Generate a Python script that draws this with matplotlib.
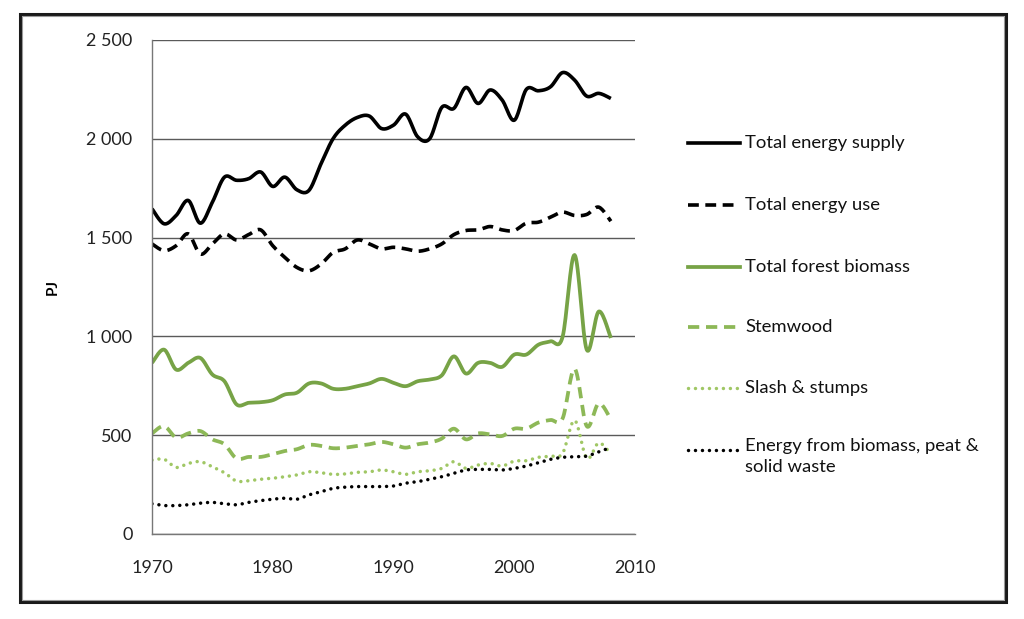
import numpy as np
import matplotlib
matplotlib.use("Agg")
import matplotlib.pyplot as plt
from matplotlib.lines import Line2D
from matplotlib.patches import Rectangle
from matplotlib.ticker import FuncFormatter

years = list(range(1970, 2009))

total_energy_supply = [1646, 1570, 1612, 1688, 1573, 1679, 1806, 1790, 1798, 1832,
                       1759, 1806, 1742, 1739, 1874, 2001, 2069, 2108, 2115, 2052,
                       2069, 2125, 2010, 2001, 2159, 2154, 2260, 2179, 2247, 2196,
                       2094, 2250, 2243, 2263, 2335, 2297, 2216, 2230, 2204]
total_energy_use = [1468, 1434, 1459, 1519, 1417, 1468, 1519, 1488, 1515, 1539,
                    1459, 1400, 1349, 1332, 1366, 1425, 1443, 1488, 1468, 1443,
                    1451, 1443, 1431, 1443, 1468, 1515, 1536, 1539, 1556, 1539,
                    1536, 1573, 1578, 1603, 1629, 1612, 1617, 1654, 1583]
total_forest_biomass = [866, 933, 832, 866, 891, 807, 773, 656, 664, 667,
                        677, 706, 715, 762, 762, 735, 735, 748, 762, 785,
                        765, 748, 773, 782, 803, 899, 812, 866, 866, 846,
                        908, 908, 958, 975, 997, 1412, 933, 1126, 992]
stemwood = [509, 546, 488, 509, 521, 479, 454, 382, 390, 390,
            404, 420, 429, 451, 446, 434, 437, 446, 454, 466,
            454, 437, 454, 463, 483, 533, 479, 509, 504, 496,
            533, 533, 564, 577, 584, 836, 546, 661, 580]
slash_stumps = [374, 378, 337, 357, 366, 340, 310, 268, 270, 277,
                282, 290, 299, 315, 310, 302, 304, 312, 315, 324,
                315, 302, 315, 320, 332, 366, 332, 349, 357, 344,
                369, 371, 388, 394, 408, 575, 383, 461, 404]
energy_biomass_peat_waste = [153, 144, 144, 148, 156, 160, 153, 148, 160, 169,
                             176, 181, 176, 198, 214, 231, 237, 240, 240, 240,
                             243, 257, 265, 277, 290, 307, 324, 327, 327, 324,
                             332, 344, 361, 378, 388, 391, 394, 416, 438]

labels = ["Total energy supply", "Total energy use", "Total forest biomass",
          "Stemwood", "Slash & stumps", "Energy from biomass, peat &\nsolid waste"]
x_ticks = [1970, 1980, 1990, 2000, 2010]
y_ticks = [0, 500, 1000, 1500, 2000, 2500]

GREEN = "#77A346"
GREEN_MID = "#8DB857"
GREEN_LIGHT = "#A0C765"

styles = [
    dict(color="black", lw=2.6, ls="-"),
    dict(color="black", lw=2.6, dashes=(3.0, 1.8), dash_capstyle="butt"),
    dict(color=GREEN, lw=2.7, ls="-"),
    dict(color=GREEN_MID, lw=2.7, dashes=(3.0, 1.8), dash_capstyle="butt"),
    dict(color=GREEN_LIGHT, lw=2.5, dashes=(0.01, 2.0), dash_capstyle="round"),
    dict(color="black", lw=2.5, dashes=(0.01, 2.0), dash_capstyle="round"),
]
series = [total_energy_supply, total_energy_use, total_forest_biomass,
          stemwood, slash_stumps, energy_biomass_peat_waste]


def smooth(xs, ys, n=16):
    """Excel-like smoothed line (Catmull-Rom Bezier through the points)."""
    xs = np.asarray(xs, float)
    ys = np.asarray(ys, float)
    px = np.concatenate([[xs[0]], xs, [xs[-1]]])
    py = np.concatenate([[ys[0]], ys, [ys[-1]]])
    outx, outy = [], []
    t = np.linspace(0, 1, n, endpoint=False)
    for i in range(1, len(px) - 2):
        p0 = np.array([px[i], py[i]])
        p3 = np.array([px[i + 1], py[i + 1]])
        c1 = p0 + (np.array([px[i + 1], py[i + 1]]) - np.array([px[i - 1], py[i - 1]])) / 6
        c2 = p3 - (np.array([px[i + 2], py[i + 2]]) - np.array([px[i], py[i]])) / 6
        b = ((1 - t) ** 3)[:, None] * p0 + (3 * (1 - t) ** 2 * t)[:, None] * c1 \
            + (3 * (1 - t) * t ** 2)[:, None] * c2 + (t ** 3)[:, None] * p3
        outx.extend(b[:, 0]); outy.extend(b[:, 1])
    outx.append(xs[-1]); outy.append(ys[-1])
    return np.array(outx), np.array(outy)


W, H = 1024, 619
fig = plt.figure(figsize=(W / 100, H / 100), dpi=100)
plt.rcParams['font.family'] = ['Lato', 'DejaVu Sans']

ax = fig.add_axes([152 / W, 1 - 534 / H, (635 - 152) / W, (534 - 40) / H])

for vals, st in zip(series, styles):
    sx, sy = smooth(years, vals)
    ax.plot(sx, sy, solid_capstyle="butt", **st)

ax.set_xlim(1970, 2010)
ax.set_ylim(0, 2500)
ax.set_xticks(x_ticks)
ax.set_yticks(y_ticks)
ax.yaxis.set_major_formatter(FuncFormatter(lambda v, p: f"{int(v):,}".replace(",", " ")))
ax.tick_params(length=0, labelsize=13, colors="#222222")
ax.tick_params(axis="y", pad=14)
ax.tick_params(axis="x", pad=19)
ax.grid(axis="y", color="#5a5a5a", lw=1.0)
ax.set_axisbelow(True)
for s in ["top", "right"]:
    ax.spines[s].set_visible(False)
for s in ["left", "bottom"]:
    ax.spines[s].set_color("#777777")
    ax.spines[s].set_linewidth(1.0)
ax.set_ylabel("PJ", fontsize=11, fontweight="bold")
ax.yaxis.set_label_coords((60 - 152) / 483, 0.5)

# legend drawn at the right of the plot
leg_y = [143, 205, 267, 327, 388, 450]
for lab, st, yy in zip(labels, styles, leg_y):
    yf = 1 - yy / H
    ln = Line2D([688 / W, 740 / W], [yf, yf], transform=fig.transFigure, **st)
    fig.add_artist(ln)
    if "\n" in lab:
        fig.text(745 / W, yf + 12 / H, lab, fontsize=13.3, va="top", color="#111111",
                 linespacing=1.4, transform=fig.transFigure)
    else:
        fig.text(745 / W, yf, lab, fontsize=13.3, va="center", color="#111111",
                 transform=fig.transFigure)

# outer chart border
fig.add_artist(Rectangle((20 / W, 1 - 602 / H), (986 / W), (588 / H),
                         transform=fig.transFigure, fill=False,
                         edgecolor="#1a1a1a", lw=2.2))
fig.add_artist(Rectangle((22 / W, 1 - 600 / H), (982 / W), (584 / H),
                         transform=fig.transFigure, fill=False,
                         edgecolor="#9a9a9a", lw=0.8))

fig.savefig("out.png", dpi=100)
